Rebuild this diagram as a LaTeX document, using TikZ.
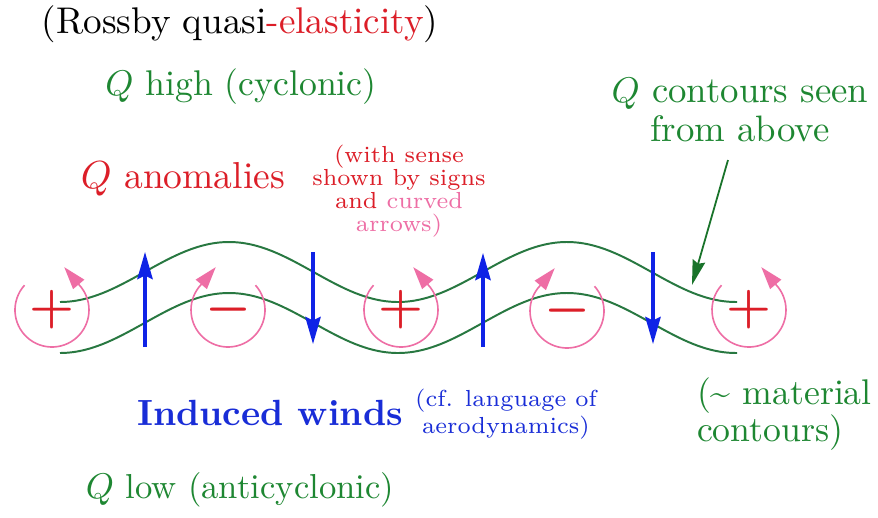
\documentclass[tikz,border=0pt]{standalone}
\usetikzlibrary{arrows.meta}
\definecolor{qgreen}{RGB}{30,135,50}
\definecolor{cgreen}{RGB}{40,120,65}
\definecolor{qred}{RGB}{220,30,40}
\definecolor{qpink}{RGB}{238,110,165}
\definecolor{qblue}{RGB}{25,45,215}
\definecolor{ablue}{RGB}{15,35,230}
\begin{document}
\begin{tikzpicture}[x=0.28pt,y=0.28pt,
  lbl/.style={inner sep=0pt,outer sep=0pt},
  signnode/.style={inner sep=0pt,text=qred,font=\fontsize{14}{14}\selectfont\boldmath},
  swirl/.style={draw=qpink,line width=0.45pt,-{Triangle[length=6.3pt,width=4pt]},qpink},
  wind/.style={draw=ablue,line width=0.85pt,-{Stealth[length=7.6pt,width=4.3pt,inset=1pt]}},
  contour/.style={draw=cgreen,line width=0.55pt},
  pointer/.style={draw=qgreen!85!black,line width=0.5pt,-{Stealth[length=7pt,width=3.6pt,inset=0.8pt]}}]
\useasboundingbox (0,0) rectangle (878,-517);
\fill[white] (0,0) rectangle (878,-517);

% titles
\node[lbl,anchor=base,font=\fontsize{10.4}{12}\selectfont] (title) at (240,-33)
  {(Rossby quasi\textcolor{qred}{-elasticity})};
\node[lbl,anchor=base,text=qgreen,font=\fontsize{10}{12}\selectfont] (qhigh) at (241,-95)
  {$Q$ high (cyclonic)};
\node[lbl,anchor=base,text=qred,font=\fontsize{10.5}{12}\selectfont] (qanom) at (183,-188)
  {$Q$ anomalies};
\node[lbl,align=center,text=qred,font=\fontsize{6.5}{6.4}\selectfont] (sense) at (399,-191)
  {(with sense\\shown by signs\\and \textcolor{qpink}{curved}\\\textcolor{qpink}{arrows)}};
\node[lbl,align=center,text=qgreen,font=\fontsize{10.3}{10.8}\selectfont] (seen) at (740,-110)
  {$Q$ contours seen\\from above};
\node[lbl,anchor=base,text=qblue,font=\fontsize{10.2}{12}\selectfont\bfseries] (winds) at (270,-425)
  {Induced winds};
\node[lbl,align=center,text=qblue,font=\fontsize{6.5}{6.4}\selectfont] (aero) at (506,-414)
  {(cf. language of\\aerodynamics)};
\node[lbl,align=left,anchor=west,text=qgreen,font=\fontsize{10}{10.4}\selectfont] (material) at (697,-414)
  {(\textasciitilde{} material\\contours)};
\node[lbl,anchor=base,text=qgreen,font=\fontsize{9.7}{12}\selectfont] (qlow) at (240,-498)
  {$Q$ low (anticyclonic)};

% Q contours
\draw[contour] plot[domain=60:737,samples=120,smooth] (\x,{-272-30*cos((\x-60)*1.06509)});
\draw[contour] plot[domain=60:737,samples=120,smooth] (\x,{-323-30*cos((\x-60)*1.06509)});

% signs
\node[signnode] (p1) at (52,-310) {$+$};
\node[signnode] (m1) at (228,-310) {$-$};
\node[signnode] (p2) at (401,-310) {$+$};
\node[signnode] (m2) at (567,-311) {$-$};
\node[signnode] (p3) at (749,-310) {$+$};

% curved arrows
\foreach \s in {p1,p2,p3}{
  \draw[swirl] ([shift={(138:37)}]\s.center) arc[start angle=138,end angle=403,radius=37] -- ++(130:23);
}
\foreach \s in {m1,m2}{
  \draw[swirl] ([shift={(42:37)}]\s.center) arc[start angle=42,end angle=-223,radius=37] -- ++(50:23);
}

% induced winds
\coordinate (u1a) at (145,-347); \coordinate (u1b) at (145,-252);
\coordinate (d1a) at (313,-252); \coordinate (d1b) at (313,-344);
\coordinate (u2a) at (483,-347); \coordinate (u2b) at (483,-253);
\coordinate (d2a) at (653,-252); \coordinate (d2b) at (653,-344);
\draw[wind] (u1a) -- (u1b);
\draw[wind] (d1a) -- (d1b);
\draw[wind] (u2a) -- (u2b);
\draw[wind] (d2a) -- (d2b);

% pointer to contour
\coordinate (ptrs) at (728,-160);
\coordinate (ptre) at (692,-285);
\draw[pointer] (ptrs) -- (ptre);
\end{tikzpicture}
\end{document}
